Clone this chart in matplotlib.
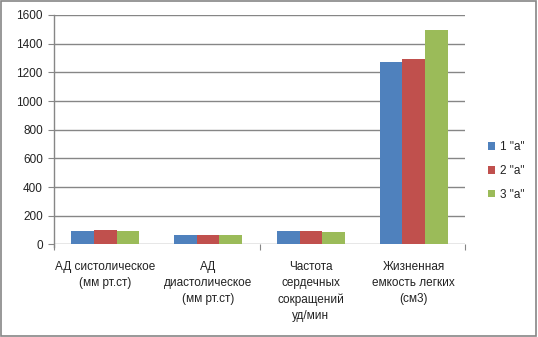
import matplotlib
matplotlib.use("Agg")
import matplotlib.pyplot as plt
from matplotlib.patches import Rectangle
import numpy as np

categories = ["АД систолическое\n(мм рт.ст)", "АД\nдиастолическое\n(мм рт.ст)",
              "Частота\nсердечных\nсокращений\nуд/мин", "Жизненная\nемкость легких\n(см3)"]
series_names = ['1 "а"', '2 "а"', '3 "а"']
s1 = [97, 63, 97, 1272]
s2 = [104, 63, 97, 1291]
s3 = [97, 63, 84, 1497]
colors = ["#4F81BD", "#C0504D", "#9BBB59"]
yticks = [0, 200, 400, 600, 800, 1000, 1200, 1400, 1600]

plt.rcParams['font.family'] = ['Liberation Sans', 'DejaVu Sans']
fig = plt.figure(figsize=(5.38, 3.37), dpi=100)
fig.patches.append(Rectangle((0.002, 0.004), 0.994, 0.993, transform=fig.transFigure,
                             fill=False, edgecolor="#868686", linewidth=1.2))
ax = fig.add_axes([0.1004, 0.2745, 0.764, 0.6810])
x = np.arange(len(categories))
w = 0.22
for i, (vals, name) in enumerate(zip([s1, s2, s3], series_names)):
    ax.bar(x + (i - 1) * w, vals, width=w, color=colors[i], label=name, zorder=3)

ax.set_xlim(-0.5, 3.5)
ax.set_ylim(0, 1600)
ax.set_yticks(yticks)
ax.set_yticklabels([str(v) for v in yticks], fontsize=8.5, color="#222222")
ax.yaxis.grid(True, color="#868686", linewidth=1.0, zorder=0)
ax.tick_params(axis='y', length=4, color="#868686", pad=4)
ax.set_xticks([-0.5, 1.5, 3.5])
ax.set_xticklabels([])
ax.tick_params(axis='x', length=4, color="#868686")
for i, c in enumerate(categories):
    ax.text(i, -0.072, c, transform=ax.get_xaxis_transform(), ha='center', va='top',
            fontsize=8.5, color="#222222", linespacing=1.47)
for s in ["top", "right", "bottom"]:
    ax.spines[s].set_visible(False)
ax.spines["left"].set_color("#868686")
ax.spines["left"].set_bounds(-20, 1600)
ax.spines["left"].set_linewidth(1.0)

leg = ax.legend(loc='center left', bbox_to_anchor=(1.03, 0.32), frameon=False,
                fontsize=8.5, handlelength=0.6, handleheight=0.6, handletextpad=0.4,
                labelspacing=1.0, labelcolor="#222222")
fig.savefig("out.png", dpi=100)
